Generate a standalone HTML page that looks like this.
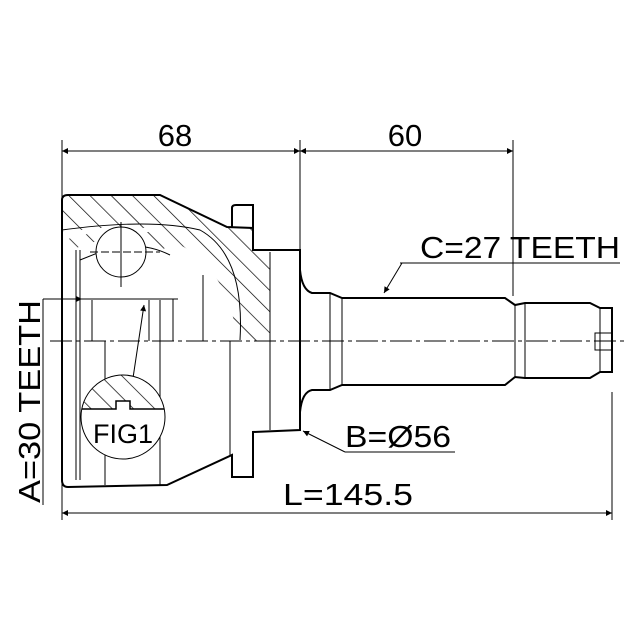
<!DOCTYPE html>
<html><head><style>html,body{margin:0;padding:0;background:#fff}svg{display:block}</style></head><body>
<svg width="640" height="640" viewBox="0 0 640 640" xmlns="http://www.w3.org/2000/svg" font-family="Liberation Sans, sans-serif">
<defs>
<pattern id="h" patternUnits="userSpaceOnUse" width="15" height="15" patternTransform="rotate(-45)">
<line x1="0" y1="0" x2="0" y2="15" stroke="#000" stroke-width="1.4"/>
</pattern>
<marker id="a" viewBox="0 0 10 10" refX="10" refY="5" markerWidth="18" markerHeight="6" markerUnits="userSpaceOnUse" orient="auto-start-reverse"><path d="M0,0L10,5L0,10z" fill="#000"/></marker>
</defs>
<rect width="640" height="640" fill="#fff"/>
<g stroke="#000" fill="none" stroke-width="1">
<line x1="62" y1="140" x2="62" y2="520"/>
<line x1="300" y1="140" x2="300" y2="252"/>
<line x1="513" y1="140" x2="513" y2="296"/>
<line x1="612" y1="392" x2="612" y2="520"/>
<line x1="62" y1="151" x2="300" y2="151" marker-start="url(#a)" marker-end="url(#a)"/>
<line x1="300" y1="151" x2="513" y2="151" marker-start="url(#a)" marker-end="url(#a)"/>
<line x1="62" y1="513" x2="612" y2="513" marker-start="url(#a)" marker-end="url(#a)"/>
<line x1="43" y1="299" x2="43" y2="505"/>
<line x1="43" y1="299" x2="178" y2="299"/>
<line x1="60" y1="299" x2="82" y2="299" marker-end="url(#a)"/>
<line x1="50" y1="341" x2="625" y2="341" stroke-dasharray="22,4,4,4"/>
</g>
<path d="M62,200 L68,195 L160,195 L227,227 L253,228 L253,250 L270,252 L270,341 L238,341 C232,300 215,262 180,245 L150,228 L100,228 L62,232 Z" fill="url(#h)" stroke="none"/>
<path d="M64,240 L95,232 L150,232 L175,245 L160,250 L145,240 L100,240 L70,250 Z" fill="url(#h)" stroke="none"/>
<g stroke="#000" fill="none" stroke-width="2">
<path d="M62,200 Q62,195 68,195 L160,195 L227,227 L253,228 L253,250 L300,250 L300,430 L253,432 L253,477 L232,477 L232,455 L167,485 L68,487 Q62,487 62,480 Z"/>
<path d="M232,228 L232,208 Q232,205 236,205 L253,205 L253,228"/>
<path d="M300,270 Q302,290 312,293 L330,293 L342,298 L505,298 L515,305 L525,303 L590,303 L600,308 L612,308 L612,372 L600,372 L590,378 L525,378 L515,377 L505,385 L342,385 L330,390 L312,390 Q302,392 300,412"/>
</g>
<g stroke="#000" fill="none" stroke-width="1">
<line x1="330" y1="293" x2="330" y2="390"/>
<line x1="342" y1="298" x2="342" y2="385"/>
<line x1="515" y1="305" x2="515" y2="377"/>
<line x1="525" y1="303" x2="525" y2="378"/>
<line x1="600" y1="308" x2="600" y2="372"/>
<path d="M612,333 L595,333 L595,350 L612,350"/>
<line x1="76" y1="250" x2="76" y2="480"/>
<line x1="80" y1="250" x2="80" y2="480"/>
<line x1="92" y1="300" x2="92" y2="341"/>
<line x1="105" y1="341" x2="105" y2="485"/>
<line x1="149" y1="300" x2="149" y2="341"/>
<line x1="160" y1="300" x2="160" y2="341"/>
<line x1="160" y1="341" x2="160" y2="485"/>
<line x1="203" y1="275" x2="203" y2="341"/>
<line x1="230" y1="341" x2="230" y2="455"/>
<line x1="270" y1="252" x2="270" y2="430"/>
<path d="M62,230 Q150,218 200,230 Q245,255 240,340"/>
<path d="M80,300 L80,260 L105,250 Q140,240 170,255"/>
<line x1="173" y1="299" x2="173" y2="341"/>
<circle cx="121" cy="252" r="25" fill="#fff"/>
<line x1="121" y1="222" x2="121" y2="287"/>
<line x1="90" y1="252" x2="160" y2="252" stroke-dasharray="8,3"/>
<line x1="400" y1="263" x2="620" y2="263"/>
<line x1="402" y1="263" x2="384" y2="293" marker-end="url(#a)"/>
<line x1="345" y1="452" x2="455" y2="452"/>
<line x1="345" y1="452" x2="303" y2="431" marker-end="url(#a)"/>
<line x1="133" y1="378" x2="144" y2="305" marker-end="url(#a)"/>
</g>
<clipPath id="c"><circle cx="123" cy="417" r="42"/></clipPath>
<circle cx="123" cy="417" r="42" fill="#fff"/>
<path d="M78,409 L116,409 L116,401 L130,401 L130,409 L168,409 L168,370 L78,370 Z" fill="url(#h)" clip-path="url(#c)"/>
<path d="M81,409 L116,409 L116,401 L130,401 L130,409 L165,409" stroke="#000" fill="none" stroke-width="1.5" clip-path="url(#c)"/>
<circle cx="123" cy="417" r="42" fill="none" stroke="#000" stroke-width="1"/>
<g fill="#000" font-size="31">
<text x="175" y="146" text-anchor="middle">68</text>
<text x="405" y="146" text-anchor="middle">60</text>
<text x="123" y="443" font-size="27" text-anchor="middle">FIG1</text>
<text x="420" y="258" textLength="200" lengthAdjust="spacingAndGlyphs">C=27 TEETH</text>
<text x="345" y="447" textLength="106" lengthAdjust="spacingAndGlyphs">B=Ø56</text>
<text x="283" y="505" textLength="130" lengthAdjust="spacingAndGlyphs">L=145.5</text>
<text transform="translate(40,503) rotate(-90)" textLength="203" lengthAdjust="spacingAndGlyphs">A=30 TEETH</text>
</g>
</svg>
</body></html>
